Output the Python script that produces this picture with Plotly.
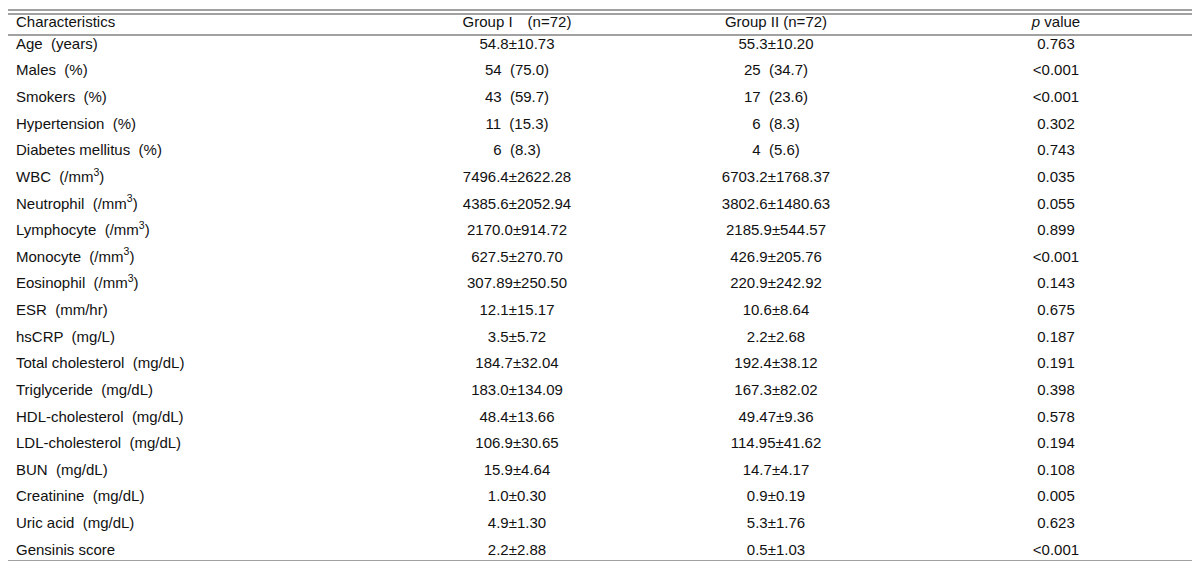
import plotly.graph_objects as go

header = ["Characteristics", "Group I\u3000(n=72)", "Group II (n=72)", "<i>p</i> value"]
characteristics = ["Age  (years)", "Males  (%)", "Smokers  (%)", "Hypertension  (%)", "Diabetes mellitus  (%)",
    "WBC  (/mm<sup>3</sup>)", "Neutrophil  (/mm<sup>3</sup>)", "Lymphocyte  (/mm<sup>3</sup>)",
    "Monocyte  (/mm<sup>3</sup>)", "Eosinophil  (/mm<sup>3</sup>)", "ESR  (mm/hr)", "hsCRP  (mg/L)",
    "Total cholesterol  (mg/dL)", "Triglyceride  (mg/dL)", "HDL-cholesterol  (mg/dL)",
    "LDL-cholesterol  (mg/dL)", "BUN  (mg/dL)", "Creatinine  (mg/dL)", "Uric acid  (mg/dL)", "Gensinis score"]
group1 = ["54.8±10.73", "54  (75.0)", "43  (59.7)", "11  (15.3)", "6  (8.3)", "7496.4±2622.28",
    "4385.6±2052.94", "2170.0±914.72", "627.5±270.70", "307.89±250.50", "12.1±15.17", "3.5±5.72",
    "184.7±32.04", "183.0±134.09", "48.4±13.66", "106.9±30.65", "15.9±4.64", "1.0±0.30", "4.9±1.30", "2.2±2.88"]
group2 = ["55.3±10.20", "25  (34.7)", "17  (23.6)", "6  (8.3)", "4  (5.6)", "6703.2±1768.37",
    "3802.6±1480.63", "2185.9±544.57", "426.9±205.76", "220.9±242.92", "10.6±8.64", "2.2±2.68",
    "192.4±38.12", "167.3±82.02", "49.47±9.36", "114.95±41.62", "14.7±4.17", "0.9±0.19", "5.3±1.76", "0.5±1.03"]
pvalues = ["0.763", "<0.001", "<0.001", "0.302", "0.743", "0.035", "0.055", "0.899", "<0.001", "0.143",
    "0.675", "0.187", "0.191", "0.398", "0.578", "0.194", "0.108", "0.005", "0.623", "<0.001"]

n = len(characteristics)
row_y = [37 + i * 26.63 for i in range(n)]
hy = 15
font = dict(family="Liberation Sans, Arial", size=15, color="#111")

fig = go.Figure()
fig.add_trace(go.Scatter(x=[8] * (n + 1), y=[hy] + row_y, text=[header[0]] + characteristics,
    mode="text", textposition="middle right", textfont=font, hoverinfo="skip"))
for xc, h, col in [(509, header[1], group1), (768, header[2], group2), (1048, header[3], pvalues)]:
    fig.add_trace(go.Scatter(x=[xc] * (n + 1), y=[hy] + row_y, text=[h] + col,
        mode="text", textposition="middle center", textfont=font, hoverinfo="skip"))

line = dict(color="#444", width=1.2)
for y in [2, 6, 27, 553]:
    fig.add_shape(type="line", x0=0, x1=1192, y0=y, y1=y, xref="x", yref="y", line=line)

fig.update_layout(width=1200, height=561, margin=dict(l=0, r=0, t=0, b=0),
    plot_bgcolor="white", paper_bgcolor="white", showlegend=False,
    xaxis=dict(range=[0, 1200], visible=False, fixedrange=True),
    yaxis=dict(range=[561, 0], visible=False, fixedrange=True))
fig.write_html("out.html")
